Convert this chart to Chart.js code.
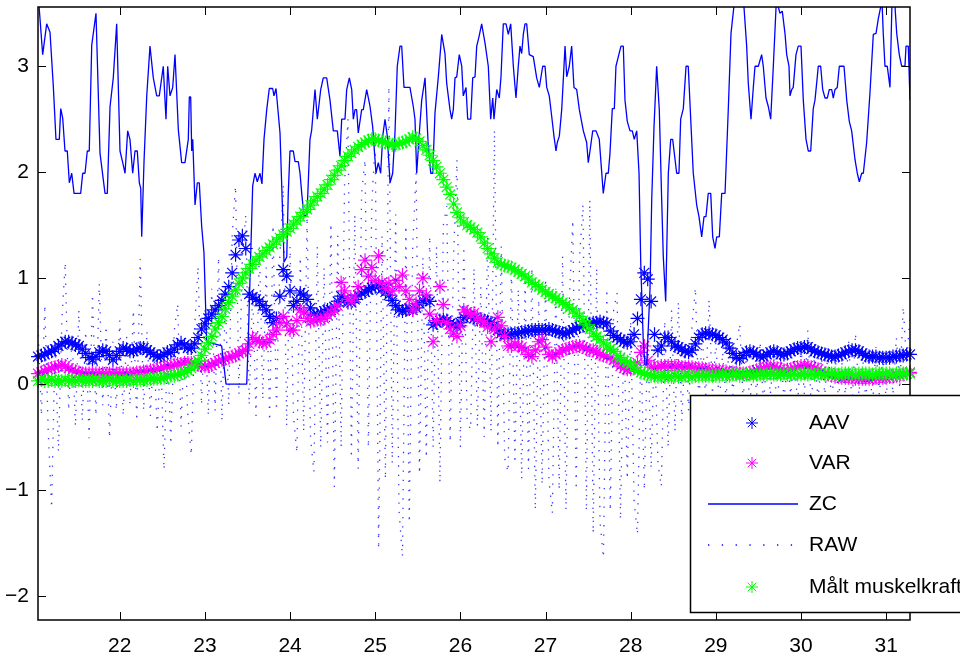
<!DOCTYPE html>
<html>
<head>
<meta charset="utf-8">
<script src="https://cdn.jsdelivr.net/npm/chart.js@4.4.1/dist/chart.umd.min.js"></script>
<style>
  html, body { margin: 0; padding: 0; background: #fff; }
  #wrap { width: 960px; height: 656px; }
</style>
</head>
<body>
<div id="wrap"><canvas id="emgChart" width="960" height="656"></canvas></div>
<script>
// time base of the sampled series (seconds)
const t0 = 21.04;
const dt = 0.04;
const xTicks = [22, 23, 24, 25, 26, 27, 28, 29, 30, 31];
const yTicks = [-2, -1, 0, 1, 2, 3];
const legendLabels = ["AAV", "VAR", "ZC", "RAW", "Målt muskelkraft"];

const aav = [
  .26,.27,.28,.30,.31,.33,.36,.38,.40,.40,.39,.37,.36,.33,.29,.25,.23,.26,.30,.32,.31,.27,.23,.27,
  .31,.34,.33,.31,.31,.33,.34,.34,.32,.30,.28,.26,.26,.28,.30,.30,.33,.37,.39,.37,.34,.34,.38,.44,.52,
  .57,.62,.66,.70,.74,.79,.85,.92,1.05,1.22,1.36,1.40,1.28,.85,.82,.80,.78,.74,.70,.64,.58,.62,.83,1.08,1.02,
  .88,.74,.78,.86,.84,.80,.72,.66,.65,.67,.69,.70,.70,.73,.78,.83,.80,.77,.77,.80,.84,.86,.87,.89,.91,
  .92,.93,.90,.87,.84,.79,.74,.70,.69,.70,.71,.70,.72,.76,.79,.80,.78,.56,.58,.60,.61,.60,.57,.55,.54,
  .58,.63,.65,.64,.62,.61,.61,.60,.59,.58,.55,.51,.48,.47,.47,.47,.48,.48,.49,.50,.50,.51,.51,.51,.51,
  .51,.52,.51,.50,.49,.48,.48,.49,.51,.53,.54,.55,.56,.57,.58,.58,.59,.58,.57,.50,.46,.44,.42,.40,.39,
  .40,.47,.62,.80,1.05,.99,.78,.47,.32,.36,.44,.44,.40,.36,.35,.33,.31,.30,.32,.38,.44,.47,.48,.48,.47,
  .46,.44,.42,.39,.34,.29,.25,.24,.27,.30,.31,.30,.28,.26,.26,.28,.30,.31,.30,.28,.28,.29,.31,.33,.34,
  .34,.35,.35,.33,.31,.30,.29,.28,.27,.26,.26,.27,.28,.30,.31,.32,.32,.31,.29,.27,.26,.26,.26,.25,.25,
  .25,.25,.26,.26,.27,.27,.28,.28
];

const variance = [
  .10,.11,.12,.14,.15,.16,.17,.18,.17,.15,.13,.12,.11,.10,.10,.10,.10,.10,.10,.10,.10,.10,.10,.10,
  .10,.10,.10,.10,.10,.11,.11,.12,.12,.13,.13,.14,.15,.16,.17,.17,.18,.19,.19,.20,.20,.20,.19,.18,.17,
  .17,.17,.18,.20,.22,.23,.24,.25,.26,.27,.29,.31,.32,.38,.44,.42,.40,.39,.39,.42,.47,.51,.58,.64,.57,
  .51,.51,.60,.70,.68,.62,.59,.60,.61,.61,.62,.65,.68,.70,.74,.96,.88,.80,.78,.82,.92,1.08,1.17,1.02,1.10,
  .98,1.21,.96,.90,.95,.88,.98,.92,1.03,.88,.80,.70,.76,.88,1.00,.84,.66,.40,.60,.92,.75,.58,.52,.48,.45,
  .55,.70,.68,.66,.67,.63,.60,.58,.54,.40,.52,.63,.55,.45,.36,.36,.38,.36,.35,.32,.28,.26,.32,.40,.42,
  .35,.28,.26,.28,.30,.32,.33,.34,.35,.36,.36,.35,.33,.32,.32,.30,.28,.27,.26,.25,.23,.20,.17,.15,.14,
  .14,.15,.20,.30,.36,.22,.16,.15,.16,.17,.17,.17,.17,.17,.17,.16,.16,.16,.16,.15,.15,.15,.14,.14,.13,
  .13,.13,.12,.12,.11,.11,.11,.10,.10,.10,.11,.12,.13,.14,.15,.16,.16,.16,.15,.14,.13,.13,.14,.15,.16,
  .17,.17,.17,.16,.15,.14,.12,.10,.09,.08,.07,.07,.06,.06,.06,.06,.05,.05,.05,.05,.05,.05,.06,.06,.06,
  .06,.07,.07,.08,.08,.09,.10,.11
];

const raw = [
  0.55,-0.30,0.75,-0.45,-1.17,0.40,-0.64,0.60,1.15,-0.25,0.45,-0.40,0.70,-0.35,0.50,-0.51,0.85,-0.30,0.95,-0.20,0.55,-0.51,0.40,-0.25,
  0.60,-0.30,0.45,-0.20,0.70,-0.35,1.18,-0.25,0.50,-0.30,0.35,-0.45,0.30,-0.81,0.40,-0.57,0.50,0.76,-0.40,0.45,-0.30,-0.67,0.55,1.11,-0.20,
  0.70,-0.30,0.90,-0.25,1.20,-0.35,0.80,-0.20,1.40,1.87,-0.10,1.20,1.60,-0.20,0.90,-0.30,1.30,-0.15,1.10,-0.35,1.50,-0.25,1.20,1.88,-0.40,
  1.30,-0.30,-0.65,1.20,-0.45,1.58,-0.50,-0.83,1.30,-0.60,1.10,-0.55,1.52,-0.97,1.40,-0.60,1.90,2.50,-0.70,1.60,-0.80,1.80,2.12,-0.60,1.70,
  2.30,-1.56,1.40,-0.90,2.81,-0.75,1.60,-1.20,-1.63,1.50,-1.31,1.30,1.99,-0.85,1.20,-0.70,1.40,-0.60,1.30,-0.93,1.50,1.68,-0.55,1.20,2.12,
  -0.60,1.30,-0.35,-0.43,1.10,-0.40,0.92,-0.50,1.40,-0.45,2.40,-0.60,1.30,-0.70,-0.83,1.10,-0.75,0.90,-0.90,1.00,-0.80,1.10,-1.19,0.80,-0.95,
  1.00,-0.90,-1.22,0.90,-1.00,1.21,-1.19,0.80,1.55,-1.00,1.20,1.70,-1.20,1.74,-1.41,1.10,-1.30,-1.64,0.90,-1.20,0.70,0.86,-1.28,0.50,-0.90,
  0.60,-1.10,-1.42,0.40,-1.00,0.50,-0.80,0.45,-0.75,-0.97,0.60,-0.60,0.70,-0.45,0.78,-0.35,0.40,-0.25,0.55,0.91,-0.20,0.50,-0.15,0.80,-0.10,
  0.40,-0.20,0.30,-0.15,0.45,-0.10,0.35,0.57,-0.15,0.30,-0.20,0.25,-0.10,0.40,-0.20,0.30,-0.10,0.25,-0.25,0.35,-0.15,0.20,-0.10,0.30,-0.20,
  0.35,-0.10,0.51,-0.20,0.30,-0.15,0.25,-0.10,0.35,-0.20,0.30,-0.15,0.20,-0.10,0.40,-0.20,0.48,-0.10,0.30,-0.15,0.25,-0.20,0.35,-0.10,0.30,
  -0.15,0.35,-0.10,0.44,-0.05,0.73,0.20,0.65
];

const force = [
  .03,.04,.03,.03,.04,.03,.03,.03,.04,.03,.03,.03,.04,.03,.03,.03,.03,.04,.03,.03,.03,.04,.03,.03,
  .03,.03,.03,.04,.03,.04,.04,.04,.04,.05,.05,.05,.06,.06,.07,.08,.08,.09,.10,.11,.13,.15,.18,.22,.27,
  .33,.39,.45,.52,.58,.64,.71,.77,.83,.89,.95,1.00,1.05,1.09,1.13,1.17,1.20,1.23,1.26,1.29,1.32,1.35,1.38,1.41,1.44,
  1.47,1.51,1.54,1.58,1.62,1.65,1.69,1.73,1.77,1.80,1.84,1.88,1.93,1.97,2.02,2.06,2.11,2.15,2.18,2.21,2.24,2.26,2.28,2.30,2.31,
  2.31,2.30,2.29,2.28,2.27,2.26,2.26,2.27,2.28,2.29,2.31,2.33,2.32,2.29,2.25,2.21,2.16,2.11,2.05,1.99,1.93,1.86,1.79,1.70,1.62,
  1.57,1.53,1.50,1.48,1.46,1.43,1.39,1.33,1.28,1.23,1.19,1.15,1.13,1.12,1.11,1.10,1.08,1.06,1.04,1.02,.99,.96,.94,.92,.89,
  .87,.85,.83,.81,.79,.77,.75,.72,.70,.67,.64,.60,.56,.52,.48,.45,.42,.39,.36,.33,.31,.27,.25,.22,.21,
  .19,.16,.13,.11,.10,.09,.08,.08,.07,.07,.07,.07,.07,.08,.07,.07,.08,.08,.07,.08,.08,.08,.08,.08,.08,
  .08,.08,.09,.08,.08,.09,.09,.08,.09,.09,.09,.08,.09,.09,.09,.09,.10,.09,.09,.09,.10,.09,.09,.10,.09,
  .09,.10,.09,.10,.09,.10,.10,.09,.10,.10,.10,.09,.10,.10,.10,.10,.09,.10,.10,.10,.10,.09,.10,.10,.10,
  .10,.10,.09,.10,.10,.10,.10,.10
];

// ZC is traced at its own vertices
const zcT = [
  21.04,21.095,21.142,21.181,21.22,21.251,21.29,21.307,21.33,21.357,21.384,21.408,
  21.436,21.463,21.541,21.565,21.592,21.619,21.642,21.671,21.721,21.768,21.827,21.854,
  21.886,21.924,21.964,22.003,22.035,22.062,22.093,22.12,22.152,22.179,22.206,22.23,
  22.246,22.258,22.285,22.317,22.355,22.394,22.434,22.464,22.511,22.543,22.563,22.59,
  22.622,22.649,22.688,22.727,22.766,22.805,22.817,22.833,22.845,22.857,22.884,22.911,
  22.934,22.962,22.989,23.021,23.197,23.248,23.491,23.51,23.561,23.588,23.615,23.647,
  23.67,23.694,23.726,23.756,23.796,23.811,23.835,23.882,23.914,23.929,23.961,23.979,
  23.999,24.038,24.058,24.097,24.117,24.137,24.164,24.199,24.234,24.254,24.293,24.32,
  24.36,24.39,24.43,24.469,24.508,24.555,24.586,24.606,24.645,24.665,24.696,24.724,
  24.743,24.763,24.782,24.801,24.841,24.86,24.9,24.939,24.97,25.009,25.036,25.064,
  25.088,25.115,25.142,25.174,25.205,25.232,25.259,25.291,25.311,25.338,25.408,25.447,
  25.467,25.487,25.518,25.546,25.585,25.623,25.652,25.675,25.702,25.741,25.781,25.819,
  25.839,25.878,25.898,25.917,25.937,25.957,25.987,26.016,26.034,26.066,26.086,26.121,
  26.145,26.172,26.192,26.219,26.25,26.289,26.328,26.356,26.38,26.395,26.427,26.457,
  26.477,26.504,26.536,26.563,26.591,26.622,26.653,26.68,26.7,26.72,26.739,26.759,
  26.779,26.809,26.856,26.896,26.927,26.967,26.994,27.014,27.044,27.072,27.099,27.123,
  27.138,27.162,27.19,27.229,27.249,27.279,27.307,27.334,27.366,27.397,27.444,27.483,
  27.502,27.522,27.554,27.593,27.631,27.678,27.71,27.737,27.757,27.784,27.808,27.827,
  27.855,27.886,27.913,27.933,27.96,27.992,28.019,28.042,28.071,28.098,28.118,28.148,
  28.168,28.188,28.227,28.247,28.274,28.305,28.336,28.364,28.383,28.411,28.442,28.47,
  28.493,28.54,28.567,28.587,28.618,28.65,28.676,28.705,28.735,28.775,28.802,28.834,
  28.861,28.884,28.911,28.94,28.963,28.99,29.01,29.041,29.069,29.108,29.146,29.178,
  29.284,29.362,29.381,29.413,29.44,29.46,29.499,29.538,29.557,29.589,29.616,29.644,
  29.675,29.718,29.733,29.753,29.78,29.812,29.832,29.859,29.871,29.891,29.909,29.941,
  29.968,30,30.027,30.059,30.086,30.114,30.144,30.164,30.184,30.203,30.231,30.255,
  30.282,30.309,30.332,30.361,30.379,30.399,30.426,30.45,30.505,30.537,30.567,30.595,
  30.634,30.661,30.685,30.713,30.732,30.771,30.81,30.849,30.881,30.908,30.951,30.966,
  30.986,31.013,31.045,31.077,31.124,31.154,31.182,31.221,31.233,31.26,31.28
];
const zcV = [
  3.70,3.11,3.40,3.32,2.81,2.31,2.31,2.60,2.51,2.20,2.20,1.90,
  1.99,1.80,1.80,1.99,1.99,2.20,2.20,3.20,3.50,2.18,1.80,1.80,
  2.62,2.89,3.40,2.20,2.09,1.99,2.39,2.31,1.99,2.20,2.20,1.90,
  1.85,1.39,2.10,2.72,3.19,2.89,2.72,2.72,3.00,2.50,3.00,2.72,
  2.80,3.11,2.40,2.09,2.09,2.31,2.71,2.71,2.20,2.31,1.69,1.90,
  1.90,1.49,1.24,0.40,0.36,0.00,0.00,0.45,1.87,1.99,1.91,1.99,
  1.89,2.31,2.59,2.79,2.79,2.72,2.79,2.37,1.58,1.15,1.20,1.80,
  2.20,2.20,2.10,2.10,1.99,1.80,1.58,1.60,2.31,2.40,2.78,2.50,
  2.78,2.89,2.89,2.68,2.39,2.39,2.15,2.50,2.50,2.78,2.89,2.78,
  2.50,2.59,2.59,2.37,2.59,2.59,2.78,2.62,2.43,1.99,2.09,1.99,
  2.34,2.50,2.34,1.90,1.99,2.37,3.00,3.19,3.19,2.80,2.80,2.62,
  2.50,1.99,2.37,2.68,2.89,2.24,1.99,1.99,2.56,2.90,3.30,3.12,
  2.84,2.59,2.50,2.59,2.89,2.90,3.11,3.00,2.72,2.80,2.50,2.50,
  2.89,2.90,3.19,3.28,3.40,3.22,3.00,2.50,2.70,2.50,2.78,2.70,
  2.90,3.40,3.40,3.30,3.40,3.00,2.70,3.00,3.19,3.12,3.30,3.40,
  3.40,3.11,3.09,2.89,2.80,3.00,3.00,2.80,2.72,2.53,2.34,2.20,
  2.28,2.34,2.59,3.19,2.90,3.00,3.19,2.80,2.78,2.59,2.39,2.28,
  2.09,2.20,2.39,2.39,2.31,1.80,1.99,1.99,2.18,2.60,2.60,3.00,
  3.09,3.19,3.19,2.68,2.48,2.39,2.39,2.31,2.39,1.99,1.14,0.40,
  0.18,0.18,0.90,1.74,2.43,3.00,2.59,1.74,1.20,0.78,1.99,2.31,
  2.31,1.99,1.99,2.50,2.60,3.00,3.00,2.50,1.99,1.69,1.58,1.39,
  1.58,1.58,1.80,1.80,1.39,1.28,1.39,1.39,1.80,1.80,2.59,3.31,
  4.10,3.19,2.84,2.50,2.80,3.00,3.00,3.11,3.00,2.70,2.62,2.50,
  3.00,3.75,3.56,3.50,3.52,3.31,3.11,3.00,2.72,2.78,2.80,3.11,
  3.19,3.19,2.68,2.31,2.20,2.20,2.60,2.68,2.84,3.00,3.00,2.78,
  2.70,2.70,2.78,2.78,2.70,2.78,2.80,3.00,3.00,2.68,2.48,2.39,
  2.12,1.99,1.91,1.99,1.99,2.28,2.75,3.30,3.31,3.45,3.62,3.31,
  3.00,3.00,2.80,3.90,3.31,3.11,3.00,3.00,3.19,3.19,2.68
];

const FONT = '"Liberation Sans", Arial, Helvetica, sans-serif';
const BLUE = "#0000ff", MAGENTA = "#ff00ff", GREEN = "#00ff00";
const RAW_DASH = [1.3, 8];

const timed = arr => arr.map((v, i) => ({ x: t0 + i * dt, y: v }));

function starSet(label, values, color, order) {
  return {
    label, data: timed(values), order,
    showLine: false, pointStyle: "star", pointRadius: 7, pointBorderWidth: 1.2,
    borderColor: color, backgroundColor: color, clip: false
  };
}

// MATLAB-like box: inward ticks on all four sides
const frame = {
  id: "frame",
  afterDatasetsDraw(chart) {
    const { ctx, chartArea: a, scales: { x, y } } = chart;
    ctx.save();
    ctx.strokeStyle = "#000";
    ctx.lineWidth = 1;
    ctx.beginPath();
    xTicks.forEach(v => {
      const px = Math.round(x.getPixelForValue(v)) + 0.5;
      ctx.moveTo(px, a.bottom); ctx.lineTo(px, a.bottom - 8);
      ctx.moveTo(px, a.top); ctx.lineTo(px, a.top + 8);
    });
    yTicks.forEach(v => {
      const py = Math.round(y.getPixelForValue(v)) + 0.5;
      ctx.moveTo(a.left, py); ctx.lineTo(a.left + 8, py);
      ctx.moveTo(a.right, py); ctx.lineTo(a.right - 8, py);
    });
    ctx.stroke();
    ctx.lineWidth = 1.5;
    ctx.strokeRect(a.left, a.top, a.right - a.left, a.bottom - a.top);
    ctx.restore();
  }
};

// legend box sits over the lower right corner, partly outside the figure
const legendBox = {
  id: "legendBox",
  afterDraw(chart) {
    const ctx = chart.ctx;
    const left = 690.5, top = 395.5, bottom = 612.5;
    const rows = [423, 463, 504, 545, 587];
    const markX = 752, textX = 809;
    ctx.save();
    ctx.fillStyle = "#fff";
    ctx.fillRect(left, top, 400, bottom - top);
    ctx.strokeStyle = "#000";
    ctx.lineWidth = 1.5;
    ctx.strokeRect(left, top, 400, bottom - top);

    const star = (color, yy) => {
      ctx.strokeStyle = color; ctx.fillStyle = color; ctx.lineWidth = 1;
      Chart.helpers.drawPoint(ctx, { pointStyle: "star", radius: 6, rotation: 0, borderWidth: 1 }, markX, yy);
    };
    star(BLUE, rows[0]);
    star(MAGENTA, rows[1]);
    ctx.setLineDash([]);
    ctx.strokeStyle = BLUE; ctx.lineWidth = 1.3;
    ctx.beginPath(); ctx.moveTo(708, rows[2]); ctx.lineTo(798, rows[2]); ctx.stroke();
    ctx.setLineDash([1.3, 12.5]);
    ctx.beginPath(); ctx.moveTo(708, rows[3]); ctx.lineTo(798, rows[3]); ctx.stroke();
    ctx.setLineDash([]);
    star(GREEN, rows[4]);

    ctx.fillStyle = "#000";
    ctx.font = "21px " + FONT;
    ctx.textAlign = "left";
    ctx.textBaseline = "middle";
    legendLabels.forEach((txt, i) => ctx.fillText(txt, textX, rows[i]));
    ctx.restore();
  }
};

new Chart(document.getElementById("emgChart"), {
  type: "line",
  data: {
    datasets: [
      starSet(legendLabels[4], force, GREEN, 1),
      {
        label: legendLabels[3], data: timed(raw), order: 2,
        borderColor: "rgba(20,20,255,0.85)", borderWidth: 1.3, borderDash: RAW_DASH,
        borderJoinStyle: "bevel", pointRadius: 0, tension: 0
      },
      {
        label: legendLabels[2], data: zcT.map((t, i) => ({ x: t, y: zcV[i] })), order: 3,
        borderColor: BLUE, borderWidth: 1.3, borderJoinStyle: "bevel", pointRadius: 0, tension: 0
      },
      starSet(legendLabels[1], variance, MAGENTA, 4),
      starSet(legendLabels[0], aav, BLUE, 5)
    ]
  },
  options: {
    responsive: false,
    animation: false,
    events: [],
    layout: { autoPadding: false, padding: { top: 7, right: 50, bottom: 0, left: 0 } },
    plugins: { legend: { display: false }, tooltip: { enabled: false } },
    scales: {
      x: {
        type: "linear", min: 21.04, max: 31.28,
        afterBuildTicks: s => { s.ticks = xTicks.map(v => ({ value: v })); },
        afterFit: s => { s.height = 36; s.paddingLeft = 0; s.paddingRight = 0; },
        grid: { display: false, drawTicks: false },
        border: { display: false },
        ticks: { padding: 14, color: "#000", font: { family: FONT, size: 21 }, maxRotation: 0, autoSkip: false,
                 callback: v => String(v) }
      },
      y: {
        type: "linear", min: -2.226, max: 3.559,
        afterBuildTicks: s => { s.ticks = yTicks.map(v => ({ value: v })); },
        afterFit: s => { s.width = 38; s.paddingTop = 0; s.paddingBottom = 0; },
        grid: { display: false, drawTicks: false },
        border: { display: false },
        ticks: { padding: 9, color: "#000", font: { family: FONT, size: 21 }, autoSkip: false,
                 callback: v => v < 0 ? "\u2212" + Math.abs(v) : String(v) }
      }
    }
  },
  plugins: [frame, legendBox]
});
</script>
</body>
</html>
